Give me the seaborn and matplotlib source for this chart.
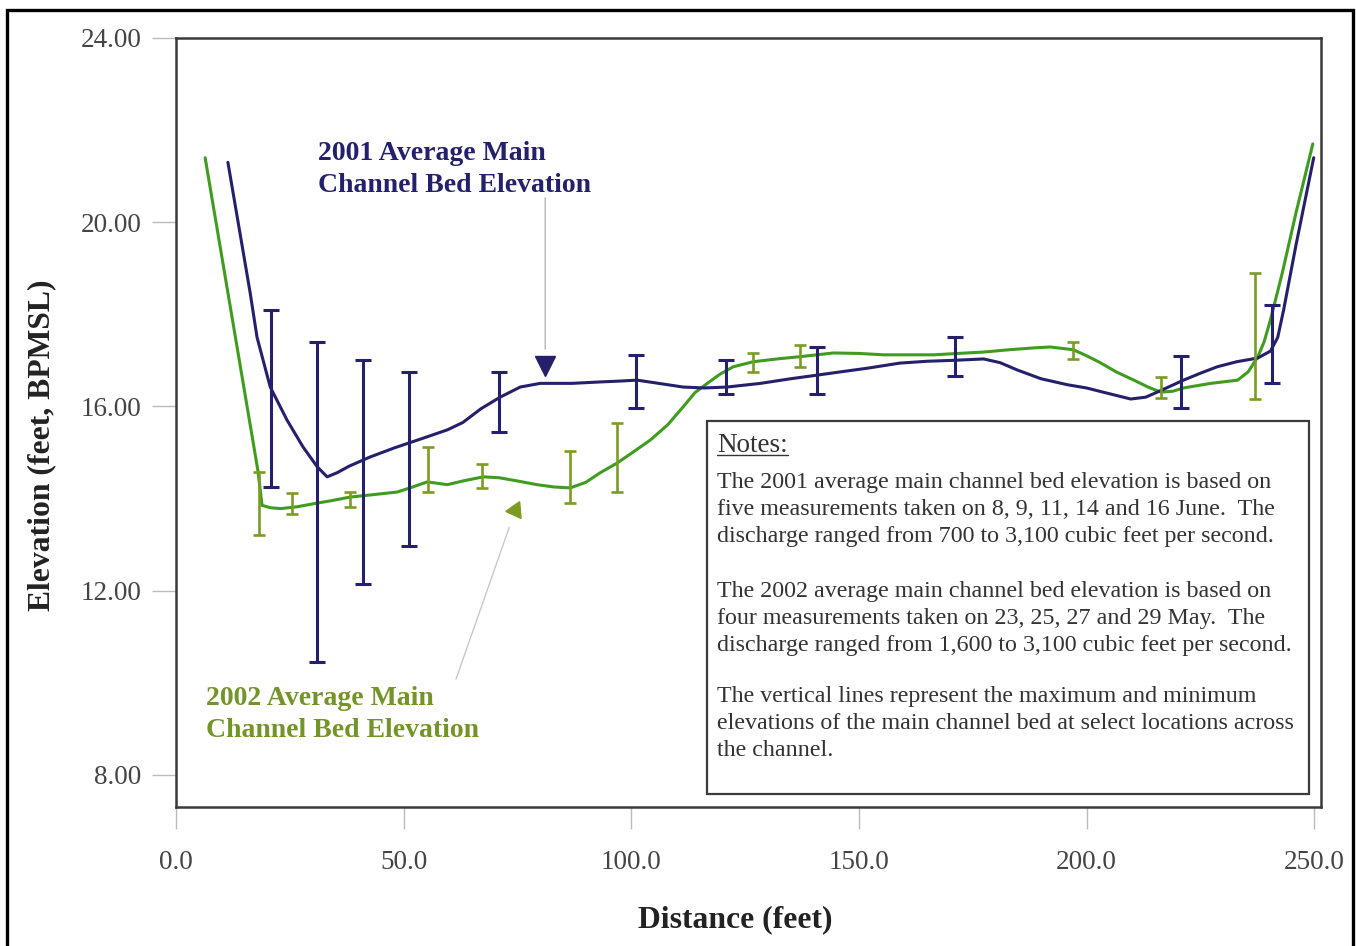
import matplotlib
matplotlib.use("Agg")
import matplotlib.pyplot as plt
import seaborn as sns
import numpy as np
import pandas as pd
from matplotlib.patches import Rectangle
from matplotlib.lines import Line2D

# ---------------- data ----------------
x2001 = [11.4, 16.3, 17.8, 20.7, 24.4, 27.9, 31.0, 33.2, 35.4, 38.0, 42.6, 48.0, 54.0,
         59.6, 63.0, 67.0, 71.2, 75.6, 80.0, 87.0, 93.0, 97.6, 101.3, 106.0, 111.4,
         116.0, 121.0, 128.4, 135.0, 140.9, 146.0, 151.9, 159.0, 165.0, 170.8, 177.4,
         181.0, 184.8, 190.0, 195.8, 200.0, 204.0, 209.7, 213.0, 216.0, 221.3, 225.0,
         228.7, 233.0, 237.6, 240.4, 242.0, 243.3, 246.0, 249.9]
y2001 = [21.30, 18.46, 17.50, 16.42, 15.70, 15.12, 14.69, 14.47, 14.56, 14.70, 14.90, 15.10, 15.30,
         15.49, 15.65, 15.95, 16.20, 16.42, 16.50, 16.50, 16.53, 16.55, 16.57, 16.50, 16.42,
         16.40, 16.42, 16.50, 16.60, 16.68, 16.75, 16.83, 16.94, 16.98, 17.00, 17.03,
         16.95, 16.79, 16.60, 16.47, 16.40, 16.30, 16.16, 16.20, 16.33, 16.57, 16.72,
         16.86, 16.97, 17.05, 17.20, 17.50, 18.10, 19.50, 21.40]

x2002 = [6.4, 18.0, 18.9, 20.7, 23.0, 26.6, 31.0, 34.0, 38.2, 43.0, 48.6, 52.0, 55.2, 59.6,
         63.0, 67.5, 71.0, 75.0, 79.3, 83.0, 86.6, 90.0, 93.2, 96.9, 100.0, 104.2, 108.0,
         111.4, 114.0, 116.7, 119.5, 122.4, 126.8, 132.0, 137.1, 144.4, 150.0, 155.4,
         166.4, 177.4, 183.0, 188.4, 192.0, 197.1, 200.0, 203.0, 206.5, 210.4, 213.5,
         216.3, 219.0, 221.3, 227.3, 233.2, 235.5, 237.6, 239.0, 240.4, 243.0, 246.0, 249.7]
y2002 = [21.40, 14.60, 13.85, 13.80, 13.78, 13.82, 13.90, 13.95, 14.03, 14.08, 14.14, 14.25, 14.36, 14.30,
         14.38, 14.47, 14.45, 14.38, 14.30, 14.25, 14.23, 14.35, 14.56, 14.77, 14.98, 15.27, 15.60,
         15.99, 16.30, 16.50, 16.70, 16.86, 16.97, 17.03, 17.08, 17.16, 17.15, 17.12,
         17.12, 17.18, 17.23, 17.27, 17.29, 17.23, 17.10, 16.95, 16.75, 16.57, 16.42,
         16.31, 16.33, 16.40, 16.50, 16.57, 16.75, 17.07, 17.40, 17.88, 18.90, 20.20, 21.70]

# min / max bars
bar_x_2001 = [20.9, 31.0, 41.1, 51.2, 71.0, 101.1, 120.7, 140.9, 171.0, 220.7, 240.7]
bar_max_2001 = [18.10, 17.40, 17.00, 16.75, 16.75, 17.12, 17.00, 17.30, 17.50, 17.10, 18.20]
bar_min_2001 = [14.25, 10.45, 12.15, 12.97, 15.45, 15.97, 16.27, 16.27, 16.66, 15.97, 16.50]

bar_x_2002 = [18.2, 25.5, 38.2, 55.4, 67.3, 86.6, 96.9, 126.8, 137.1, 197.1, 216.3, 236.9]
bar_max_2002 = [14.58, 14.12, 14.14, 15.12, 14.75, 15.03, 15.64, 17.16, 17.33, 17.40, 16.64, 18.90]
bar_min_2002 = [13.20, 13.67, 13.82, 14.14, 14.23, 13.90, 14.14, 16.75, 16.86, 17.03, 16.18, 16.16]

x_ticks = [0, 50, 100, 150, 200, 250]
x_tick_labels = ["0.0", "50.0", "100.0", "150.0", "200.0", "250.0"]
y_ticks = [8, 12, 16, 20, 24]
y_tick_labels = ["8.00", "12.00", "16.00", "20.00", "24.00"]

label_2001 = "2001 Average Main\nChannel Bed Elevation"
label_2002 = "2002 Average Main\nChannel Bed Elevation"
notes_title = "Notes:"
notes_paras = [
    "The 2001 average main channel bed elevation is based on\n"
    "five measurements taken on 8, 9, 11, 14 and 16 June.  The\n"
    "discharge ranged from 700 to 3,100 cubic feet per second.",
    "The 2002 average main channel bed elevation is based on\n"
    "four measurements taken on 23, 25, 27 and 29 May.  The\n"
    "discharge ranged from 1,600 to 3,100 cubic feet per second.",
    "The vertical lines represent the maximum and minimum\n"
    "elevations of the main channel bed at select locations across\n"
    "the channel.",
]

# ---------------- style ----------------
sns.set_theme(style="white")
plt.rcParams['font.family'] = ['Liberation Serif', 'DejaVu Serif']

NAVY = "#25206b"
GREEN_LINE = "#3f9c1f"
GREEN_BAR = "#7b9c22"
GREEN_TEXT = "#74942a"
TICK_GRAY = "#444444"

fig = plt.figure(figsize=(13.56, 9.46), dpi=100)
fig.patch.set_facecolor("white")
ax = fig.add_axes([176/1356, (946-807)/946, 1145/1356, 769/946])

df01 = pd.DataFrame({"Distance": x2001, "Elevation": y2001})
df02 = pd.DataFrame({"Distance": x2002, "Elevation": y2002})

sns.lineplot(data=df02, x="Distance", y="Elevation", sort=False, ax=ax,
             color=GREEN_LINE, linewidth=2.2, estimator=None, zorder=3)
sns.lineplot(data=df01, x="Distance", y="Elevation", sort=False, ax=ax,
             color=NAVY, linewidth=2.2, estimator=None, zorder=4)

lo02 = np.array(bar_min_2002); hi02 = np.array(bar_max_2002)
ax.errorbar(bar_x_2002, lo02, yerr=[np.zeros_like(lo02), hi02 - lo02], fmt='none',
            ecolor=GREEN_BAR, elinewidth=1.9, capsize=4.5, capthick=1.9, zorder=5)
lo01 = np.array(bar_min_2001); hi01 = np.array(bar_max_2001)
ax.errorbar(bar_x_2001, lo01, yerr=[np.zeros_like(lo01), hi01 - lo01], fmt='none',
            ecolor=NAVY, elinewidth=2.2, capsize=6, capthick=2.2, zorder=6)

ax.set_xlim(0, 251.5)
ax.set_ylim(7.3, 24.0)
ax.set_xticks(x_ticks)
ax.set_xticklabels(x_tick_labels)
ax.set_yticks(y_ticks)
ax.set_yticklabels(y_tick_labels)
ax.tick_params(axis='x', which='major', direction='out', length=16, width=1.0,
               color="#bbbbbb", pad=15, labelsize=19.5, labelcolor=TICK_GRAY,
               bottom=True)
ax.tick_params(axis='y', which='major', direction='out', length=17, width=1.0,
               color="#bbbbbb", pad=8, labelsize=19.5, labelcolor=TICK_GRAY,
               left=True)
for sp in ax.spines.values():
    sp.set_color("#3a3a3a")
    sp.set_linewidth(1.8)

ax.set_xlabel("Distance (feet)", fontsize=22.8, fontweight='bold', color="#222222")
ax.set_ylabel("Elevation (feet, BPMSL)", fontsize=22.8, fontweight='bold', color="#222222")
ax.xaxis.set_label_coords(0.488, -0.128)
ax.yaxis.set_label_coords(-0.105, 0.4707)

# annotations
ax.text(31.2, 21.15, label_2001, color=NAVY, fontsize=20, fontweight='bold',
        ha='left', va='center', linespacing=1.37)
ax.text(6.6, 9.31, label_2002, color=GREEN_TEXT, fontsize=20, fontweight='bold',
        ha='left', va='center', linespacing=1.37)

ax.annotate("", xy=(81.1, 17.18), xytext=(81.1, 20.59),
            arrowprops=dict(arrowstyle='-', color="#b8b8b8", lw=1.0))
ax.plot([81.1], [16.88], marker='v', markersize=14, color=NAVY, zorder=7)

ax.annotate("", xy=(73.4, 13.43), xytext=(61.3, 10.02),
            arrowprops=dict(arrowstyle='-', color="#c8c8c8", lw=1.0))
ax.plot([74.4], [13.75], marker=(3, 0, 95), markersize=14, color=GREEN_BAR, zorder=7)

# notes box
ax.add_patch(Rectangle((0.464, 0.0169), 0.5255, 0.4851, transform=ax.transAxes,
                       facecolor='white', edgecolor="#3a3a3a", linewidth=1.6, zorder=8))
title_txt = ax.text(0.4725, 0.4707, notes_title, transform=ax.transAxes,
                    fontsize=19.5, color="#333333", ha='left', va='center', zorder=9)
para_tops = [(807 - 472) / 769, (807 - 581) / 769, (807 - 686) / 769]
for txt, yt in zip(notes_paras, para_tops):
    ax.text(0.4725, yt, txt, transform=ax.transAxes, fontsize=17.3, color="#333333",
            ha='left', va='top', linespacing=1.37, zorder=9)

# underline under "Notes:"
fig.canvas.draw()
bb = title_txt.get_window_extent(renderer=fig.canvas.get_renderer())
W, H = fig.bbox.width, fig.bbox.height
uy = (bb.y0 + 3) / H
fig.add_artist(Line2D([bb.x0 / W, bb.x1 / W], [uy, uy], transform=fig.transFigure,
                      color="#333333", linewidth=1.0, zorder=10))

# outer frame
fig.patches.append(Rectangle((7/1356, -0.02), 1346/1356, 1.02 - 10/946,
                             transform=fig.transFigure, fill=False,
                             edgecolor='black', linewidth=2.4))

fig.savefig("out.png", dpi=100, facecolor="white")
